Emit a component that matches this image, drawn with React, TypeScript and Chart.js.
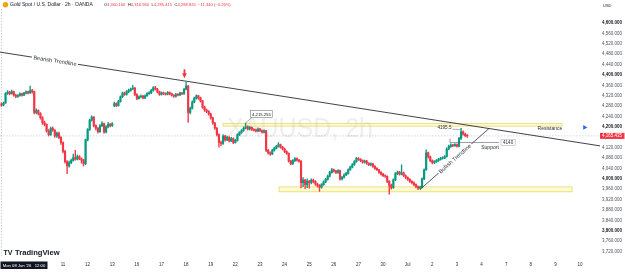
import React, { useEffect, useRef } from "react";
import { Chart, registerables } from "chart.js";

Chart.register(...registerables);

const FONT = '"Liberation Sans", Arial, sans-serif';
const UP = "#089981";
const DOWN = "#f23645";

// 2h candles, first bar index (12 bars per trading day, index 0 = Mon 08 Jun 00:00)
const FIRST_BAR = 6;

const opens = [
  4288, 4284, 4292, 4328, 4334, 4328, 4336, 4322, 4317, 4321, 4327, 4322,
  4330, 4335, 4331, 4340, 4336, 4256, 4263, 4252, 4236, 4216, 4210, 4185,
  4170, 4195, 4188, 4165, 4176, 4160, 4140, 4106, 4066, 4050, 4062, 4071,
  4082, 4076, 4086, 4078, 4072, 4058, 4150, 4190, 4226, 4238, 4205, 4195,
  4182, 4205, 4213, 4180, 4200, 4210, 4205, 4282, 4290, 4282, 4298, 4316,
  4330, 4325, 4336, 4341, 4346, 4350, 4325, 4310, 4316, 4319, 4312, 4320,
  4328, 4331, 4341, 4351, 4346, 4335, 4325, 4331, 4328, 4326, 4332, 4327,
  4322, 4318, 4325, 4323, 4330, 4328, 4345, 4357, 4256, 4272, 4296, 4311,
  4320, 4312, 4300, 4276, 4265, 4260, 4250, 4235, 4215, 4195, 4170, 4140,
  4136, 4165, 4150, 4160, 4146, 4155, 4140, 4148, 4170, 4178, 4186, 4195,
  4200, 4192, 4198, 4190, 4188, 4185, 4192, 4186, 4180, 4185, 4110, 4100,
  4096, 4110, 4118, 4125, 4132, 4122, 4115, 4105, 4098, 4068, 4058, 4070,
  4078, 4072, 4068, 3985, 3995, 3978, 3990, 3985, 3995, 3990, 3980, 3975,
  3968, 3978, 3988, 3998, 4010, 4025, 4035, 4030, 4025, 4032, 4000, 4006,
  4015, 4021, 4035, 4045, 4055, 4066, 4078, 4075, 4070, 4064, 4068, 4060,
  4055, 4058, 4048, 4040, 4035, 4025, 4018, 4012, 4010, 3990, 3975, 3966,
  3996, 4020, 4026, 4018, 4023, 4012, 4005, 3998, 3990, 3985, 3978, 3970,
  3965, 3968, 4000, 4035, 4100, 4085, 4070, 4062, 4066, 4070, 4075, 4079,
  4081, 4086, 4115, 4125, 4130, 4128, 4132, 4126, 4156, 4181, 4172, 4166,
];

const highs = [
  4293, 4296, 4332, 4340, 4337, 4342, 4338, 4326, 4325, 4331, 4330, 4333,
  4339, 4338, 4357, 4345, 4338, 4270, 4266, 4255, 4240, 4222, 4212, 4190,
  4199, 4200, 4190, 4180, 4180, 4163, 4143, 4110, 4070, 4068, 4076, 4095,
  4110, 4092, 4090, 4081, 4075, 4153, 4194, 4230, 4243, 4240, 4208, 4198,
  4209, 4221, 4215, 4205, 4218, 4214, 4217, 4296, 4293, 4302, 4320, 4334,
  4334, 4340, 4346, 4350, 4360, 4352, 4328, 4320, 4324, 4322, 4324, 4332,
  4336, 4345, 4355, 4356, 4349, 4338, 4335, 4334, 4331, 4336, 4335, 4330,
  4325, 4329, 4328, 4334, 4333, 4349, 4372, 4360, 4276, 4300, 4315, 4324,
  4322, 4315, 4302, 4280, 4269, 4263, 4253, 4238, 4218, 4198, 4173, 4145,
  4170, 4168, 4165, 4163, 4160, 4158, 4152, 4174, 4182, 4190, 4200, 4215,
  4204, 4202, 4200, 4194, 4192, 4196, 4195, 4189, 4189, 4187, 4114, 4104,
  4114, 4122, 4129, 4140, 4134, 4125, 4118, 4108, 4100, 4071, 4074, 4082,
  4081, 4075, 4070, 4005, 3998, 4000, 3994, 4000, 3999, 3993, 3984, 3978,
  3982, 3992, 4002, 4014, 4029, 4040, 4038, 4033, 4036, 4034, 4010, 4019,
  4025, 4039, 4049, 4059, 4070, 4083, 4082, 4078, 4073, 4072, 4071, 4063,
  4062, 4060, 4051, 4043, 4037, 4028, 4021, 4015, 4012, 3993, 3980, 4000,
  4024, 4030, 4029, 4054, 4026, 4015, 4008, 4001, 3993, 3988, 3981, 3973,
  3972, 4004, 4039, 4112, 4103, 4088, 4073, 4070, 4074, 4079, 4083, 4085,
  4090, 4119, 4130, 4135, 4133, 4136, 4135, 4160, 4195, 4185, 4176, 4170,
];

const lows = [
  4279, 4281, 4290, 4325, 4323, 4326, 4318, 4313, 4314, 4318, 4318, 4320,
  4327, 4327, 4329, 4330, 4250, 4250, 4246, 4230, 4210, 4204, 4180, 4165,
  4167, 4183, 4160, 4160, 4155, 4133, 4100, 4060, 4020, 4045, 4058, 4068,
  4072, 4073, 4074, 4060, 4050, 4055, 4146, 4186, 4222, 4200, 4188, 4176,
  4179, 4201, 4176, 4177, 4196, 4200, 4202, 4278, 4278, 4280, 4295, 4313,
  4321, 4322, 4332, 4338, 4343, 4320, 4305, 4307, 4312, 4308, 4309, 4317,
  4325, 4328, 4338, 4342, 4331, 4321, 4322, 4324, 4322, 4323, 4323, 4318,
  4314, 4315, 4319, 4320, 4324, 4325, 4342, 4217, 4250, 4268, 4292, 4307,
  4306, 4295, 4271, 4260, 4255, 4245, 4230, 4210, 4190, 4165, 4122, 4128,
  4133, 4145, 4147, 4142, 4143, 4135, 4137, 4145, 4166, 4175, 4183, 4192,
  4188, 4188, 4186, 4184, 4181, 4182, 4182, 4176, 4177, 4105, 4095, 4090,
  4093, 4107, 4115, 4122, 4118, 4111, 4101, 4094, 4064, 4054, 4055, 4066,
  4068, 4064, 3965, 3970, 3962, 3966, 3964, 3980, 3984, 3975, 3968, 3952,
  3964, 3975, 3985, 3995, 4007, 4022, 4026, 4020, 4021, 3995, 3996, 4003,
  4012, 4018, 4032, 4042, 4052, 4063, 4071, 4066, 4060, 4060, 4056, 4051,
  4050, 4044, 4036, 4031, 4021, 4014, 4008, 4005, 3985, 3941, 3960, 3963,
  3993, 4016, 4014, 4015, 4008, 4001, 3994, 3986, 3980, 3974, 3965, 3958,
  3960, 3965, 3997, 4032, 4080, 4066, 4057, 4058, 4063, 4067, 4072, 4076,
  4078, 4083, 4112, 4121, 4124, 4125, 4122, 4123, 4152, 4168, 4162, 4160,
];

const closes = [
  4284, 4292, 4328, 4334, 4328, 4336, 4322, 4317, 4321, 4327, 4322, 4330,
  4335, 4331, 4340, 4336, 4256, 4263, 4252, 4236, 4216, 4210, 4185, 4170,
  4195, 4188, 4165, 4176, 4160, 4140, 4106, 4066, 4050, 4062, 4071, 4082,
  4076, 4086, 4078, 4072, 4058, 4150, 4190, 4226, 4238, 4205, 4195, 4182,
  4205, 4213, 4180, 4200, 4210, 4205, 4212, 4290, 4282, 4298, 4316, 4330,
  4325, 4336, 4341, 4346, 4350, 4325, 4310, 4316, 4319, 4312, 4320, 4328,
  4331, 4341, 4351, 4346, 4335, 4325, 4331, 4328, 4326, 4332, 4327, 4322,
  4318, 4325, 4323, 4330, 4328, 4345, 4357, 4256, 4272, 4296, 4311, 4320,
  4312, 4300, 4276, 4265, 4260, 4250, 4235, 4215, 4195, 4170, 4140, 4136,
  4165, 4150, 4160, 4146, 4155, 4140, 4148, 4170, 4178, 4186, 4195, 4200,
  4192, 4198, 4190, 4188, 4185, 4192, 4186, 4180, 4185, 4110, 4100, 4096,
  4110, 4118, 4125, 4132, 4122, 4115, 4105, 4098, 4068, 4058, 4070, 4078,
  4072, 4068, 3985, 3995, 3978, 3990, 3985, 3995, 3990, 3980, 3975, 3968,
  3978, 3988, 3998, 4010, 4025, 4035, 4030, 4025, 4032, 4000, 4006, 4015,
  4021, 4035, 4045, 4055, 4066, 4078, 4075, 4070, 4064, 4068, 4060, 4055,
  4058, 4048, 4040, 4035, 4025, 4018, 4012, 4010, 3990, 3975, 3966, 3996,
  4020, 4026, 4018, 4023, 4012, 4005, 3998, 3990, 3985, 3978, 3970, 3965,
  3968, 4000, 4035, 4100, 4085, 4070, 4062, 4066, 4070, 4075, 4079, 4081,
  4086, 4115, 4125, 4130, 4128, 4132, 4126, 4156, 4181, 4172, 4166, 4165.435,
];

// time axis
const dayTickIndex = [36, 48, 60, 72, 84, 96, 108, 120, 132, 144, 156, 168, 180, 192, 204, 216, 228, 240, 252, 264, 276, 288];
const dayTickLabels = ["11", "12", "13", "16", "17", "18", "19", "22", "23", "24", "25", "26", "27", "30", "Jul", "2", "3", "4", "7", "8", "9", "10"];
const crosshairIndex = 6;
const crosshairLabel = "Mon 08 Jun '26   12:00";

// price axis
const yTicks = [3720, 3760, 3800, 3840, 3880, 3920, 3960, 4000, 4040, 4080, 4120, 4160, 4200, 4240, 4280, 4320, 4360, 4400, 4440, 4480, 4520, 4560, 4600];
const boldTicks = [3800, 4000, 4200, 4400, 4600];
const lastPriceLabel = "4,165.435";

// drawings (bar index, price)
const bearishTrend = [{ x: 5.3, y: 4488 }, { x: 297.7, y: 4127 }];
const bullishTrend = [{ x: 210.0, y: 3959 }, { x: 243.6, y: 4194 }];
const resistanceZone = [114.0, 279.2, 4203, 4213];
const supportZone = [141.3, 284.1, 3950, 3969];
const arrowMark = [95.2, 4422, 4387];
const peakNote = [132.7, 4249, 125, 4215];
const peakNoteText = "4,215.255";
const highNote = [221.9, 4197, 230, 4195];
const highNoteText = "4195.5";
const supportLine = [224.6, 248.5, 4140];
const supportNote = [252.9, 4140];
const supportNoteText = "4140";
const blueMarker = [{ x: 290.2, y: 4198 }];

const headerTitle = "Gold Spot / U.S. Dollar · 2h · OANDA";
const headerValues = [["O", "4,300.160"], ["H", "4,316.960"], ["L", "4,285.415"], ["C", "4,288.820"], ["", "−11.340 (−0.26%)"]];
const watermarkText = "XAUUSD, 2h";

const overlayPlugin = {
  id: "overlay",
  beforeDatasetsDraw(chart: any) {
    const { ctx, chartArea: a, scales } = chart;
    const X = (v: number) => scales.x.getPixelForValue(v);
    const Y = (v: number) => scales.y.getPixelForValue(v);
    ctx.save();
    // watermark
    ctx.font = `28px ${FONT}`;
    const ww = ctx.measureText(watermarkText).width;
    ctx.save();
    ctx.translate((a.left + a.right) / 2, (a.top + a.bottom) / 2 - 1.5);
    ctx.scale(146 / ww, 1);
    ctx.fillStyle = "rgba(120,123,134,0.13)";
    ctx.textAlign = "center";
    ctx.textBaseline = "middle";
    ctx.fillText(watermarkText, 0, 0);
    ctx.restore();

    // crosshair & price line
    ctx.setLineDash([1.5, 1.5]);
    ctx.strokeStyle = "rgba(120,123,134,0.55)";
    ctx.lineWidth = 0.7;
    const cx = X(crosshairIndex);
    ctx.beginPath();
    ctx.moveTo(cx, 9);
    ctx.lineTo(cx, a.bottom);
    ctx.stroke();
    const py = Y(closes[closes.length - 1]);
    ctx.strokeStyle = "rgba(150,150,155,0.55)";
    ctx.beginPath();
    ctx.moveTo(a.left, py);
    ctx.lineTo(a.right, py);
    ctx.stroke();
    ctx.setLineDash([]);

    // zones
    const zone = (z: number[]) => {
      const x0 = X(z[0]);
      const x1 = X(z[1]);
      const y0 = Y(z[3]);
      const y1 = Y(z[2]);
      ctx.fillStyle = "rgba(255, 238, 100, 0.3)";
      ctx.fillRect(x0, y0, x1 - x0, y1 - y0);
      ctx.strokeStyle = "rgba(225, 210, 80, 0.9)";
      ctx.lineWidth = 0.7;
      ctx.strokeRect(x0, y0, x1 - x0, y1 - y0);
    };
    zone(resistanceZone);
    zone(supportZone);
    ctx.restore();
  },
  afterDatasetsDraw(chart: any) {
    const { ctx, scales } = chart;
    const X = (v: number) => scales.x.getPixelForValue(v);
    const Y = (v: number) => scales.y.getPixelForValue(v);
    ctx.save();
    ctx.textAlign = "center";
    ctx.textBaseline = "middle";

    const onLine = (text: string, line: { x: number; y: number }[], at: number) => {
      const ax = X(line[0].x), ay = Y(line[0].y), bx = X(line[1].x), by = Y(line[1].y);
      const ang = Math.atan2(by - ay, bx - ax);
      const px = X(at);
      const py = ay + ((px - ax) / (bx - ax)) * (by - ay);
      ctx.save();
      ctx.translate(px, py);
      ctx.rotate(ang);
      ctx.font = `5.6px ${FONT}`;
      const w = ctx.measureText(text).width;
      ctx.fillStyle = "#ffffff";
      ctx.fillRect(-w / 2 - 1.5, -2.6, w + 3, 5.2);
      ctx.fillStyle = "#2a2e39";
      ctx.fillText(text, 0, 0.3);
      ctx.restore();
    };
    onLine("Bearish Trendline", bearishTrend, 32.1);
    onLine("Bullish Trendline", bullishTrend, 227.0);

    // red arrow
    const axp = X(arrowMark[0]);
    const ayt = Y(arrowMark[1]);
    const ayh = Y(arrowMark[2]);
    ctx.fillStyle = DOWN;
    ctx.fillRect(axp - 0.9, ayt, 1.8, (ayh - ayt) * 0.55);
    ctx.beginPath();
    ctx.moveTo(axp - 2.4, ayt + (ayh - ayt) * 0.45);
    ctx.lineTo(axp + 2.4, ayt + (ayh - ayt) * 0.45);
    ctx.lineTo(axp, ayh);
    ctx.closePath();
    ctx.fill();

    // price note 4,215.255
    ctx.font = `4.2px ${FONT}`;
    const nx = X(peakNote[0]), ny = Y(peakNote[1]);
    const nw = ctx.measureText(peakNoteText).width + 3;
    ctx.strokeStyle = "#787b86";
    ctx.lineWidth = 0.6;
    ctx.beginPath();
    ctx.moveTo(nx - nw / 2 + 1, ny + 3.5);
    ctx.lineTo(X(peakNote[2]), Y(peakNote[3]));
    ctx.stroke();
    ctx.fillStyle = "#ffffff";
    ctx.fillRect(nx - nw / 2, ny - 3.5, nw, 7);
    ctx.strokeRect(nx - nw / 2, ny - 3.5, nw, 7);
    ctx.fillStyle = "#131722";
    ctx.fillText(peakNoteText, nx, ny + 0.2);

    // 4195.5 note
    ctx.font = `4.6px ${FONT}`;
    const hx = X(highNote[0]), hy = Y(highNote[1]);
    const hw = ctx.measureText(highNoteText).width;
    ctx.fillStyle = "#2a2e39";
    ctx.fillText(highNoteText, hx, hy);
    ctx.strokeStyle = "#787b86";
    ctx.lineWidth = 0.6;
    ctx.beginPath();
    ctx.moveTo(hx + hw / 2 + 1, hy + 1.5);
    ctx.lineTo(X(highNote[2]), Y(highNote[3]) + 1.5);
    ctx.stroke();

    // support line + 4140 box
    const sy = Y(supportLine[2]);
    ctx.strokeStyle = "#5d606b";
    ctx.beginPath();
    ctx.moveTo(X(supportLine[0]), sy);
    ctx.lineTo(X(supportLine[1]), sy);
    ctx.moveTo(X(supportLine[0]), sy);
    ctx.lineTo(X(supportLine[0]), sy - 4);
    ctx.stroke();
    const bx = X(supportNote[0]), by = Y(supportNote[1]);
    const bw = ctx.measureText(supportNoteText).width + 4;
    ctx.fillStyle = "#ffffff";
    ctx.fillRect(bx - bw / 2, by - 3, bw, 6);
    ctx.strokeStyle = "#b2b5be";
    ctx.strokeRect(bx - bw / 2, by - 3, bw, 6);
    ctx.fillStyle = "#2a2e39";
    ctx.fillText(supportNoteText, bx, by + 0.2);

    ctx.font = `5px ${FONT}`;
    ctx.fillStyle = "#2a2e39";
    ctx.fillText("Support", X(244.1), Y(4121));
    ctx.fillText("Resistance", X(273.3), Y(4194));
    ctx.restore();
  },
  afterDraw(chart: any) {
    const { ctx, chartArea: a, scales } = chart;
    const Y = (v: number) => scales.y.getPixelForValue(v);
    ctx.save();
    ctx.textBaseline = "middle";
    // header
    ctx.fillStyle = "#f0a30a";
    ctx.beginPath();
    ctx.arc(5.5, 4.8, 2.7, 0, Math.PI * 2);
    ctx.fill();
    ctx.font = `5px ${FONT}`;
    ctx.textAlign = "left";
    ctx.fillStyle = "#131722";
    ctx.fillText(headerTitle, 10, 5);
    ctx.font = `4.1px ${FONT}`;
    let hx = 104;
    for (const [k, v] of headerValues) {
      if (k) {
        ctx.fillStyle = "#131722";
        ctx.fillText(k, hx, 5);
        hx += ctx.measureText(k).width;
      }
      ctx.fillStyle = DOWN;
      ctx.fillText(v, hx, 5);
      hx += ctx.measureText(v).width + 2.5;
    }

    // USD
    ctx.font = `4px ${FONT}`;
    ctx.fillStyle = "#131722";
    ctx.fillText("USD", a.right + 3, 6);

    // last price label
    const ly = Y(closes[closes.length - 1]);
    ctx.fillStyle = DOWN;
    ctx.fillRect(a.right, ly - 3, 24.5, 6);
    ctx.fillStyle = "#ffffff";
    ctx.font = `4.5px ${FONT}`;
    ctx.fillText(lastPriceLabel, a.right + 2, ly + 0.2);

    // crosshair time label
    ctx.fillStyle = "#131722";
    ctx.fillRect(0.5, 261.5, 47, 7.5);
    ctx.fillStyle = "#ffffff";
    ctx.font = `4.2px ${FONT}`;
    ctx.textAlign = "center";
    ctx.fillText(crosshairLabel, 24, 265.4);

    // logo
    ctx.textAlign = "left";
    ctx.fillStyle = "#131722";
    ctx.font = `900 7px ${FONT}`;
    ctx.fillText("TV", 3.5, 253);
    ctx.font = `600 7.6px ${FONT}`;
    ctx.fillText("TradingView", 15, 253);
    ctx.restore();
  },
};

export default function App() {
  const ref = useRef<HTMLCanvasElement>(null);
  useEffect(() => {
    document.body.style.margin = "0";
    const canvas = ref.current!;
    const idx = opens.map((_, k) => FIRST_BAR + k);
    const colors = opens.map((o, k) => (closes[k] >= o ? UP : DOWN));
    const chart = new Chart(canvas, {
      type: "bar",
      data: {
        datasets: [
          { type: "line", data: bearishTrend, borderColor: "#2a2e39", borderWidth: 0.9, pointRadius: 0, order: 0 } as any,
          { type: "line", data: bullishTrend, borderColor: "#2a2e39", borderWidth: 0.8, pointRadius: 0, order: 0 } as any,
          {
            type: "line", data: blueMarker, showLine: false, pointStyle: "triangle", rotation: 90,
            pointRadius: 2.8, backgroundColor: "#2962ff", borderWidth: 0, order: 0, clip: false,
          } as any,
          {
            type: "bar", data: idx.map((x, k) => ({ x, y: [lows[k], highs[k]] })),
            backgroundColor: colors, barThickness: 0.7, grouped: false, order: 3, borderWidth: 0,
          } as any,
          {
            type: "bar", data: idx.map((x, k) => ({ x, y: [opens[k], closes[k]] })),
            backgroundColor: colors, barThickness: 1.5, minBarLength: 0.7, grouped: false, order: 2, borderWidth: 0,
          } as any,
        ],
      },
      options: {
        responsive: false,
        animation: false,
        devicePixelRatio: 1,
        events: [],
        layout: { padding: 0, autoPadding: false },
        plugins: { legend: { display: false }, tooltip: { enabled: false } },
        scales: {
          x: {
            type: "linear", min: 5.3, max: 297.7, offset: false,
            grid: { display: false, drawTicks: false }, border: { display: false },
            afterBuildTicks: (s: any) => { s.ticks = dayTickIndex.map((v) => ({ value: v })); },
            afterFit: (s: any) => { s.height = 16; },
            ticks: {
              autoSkip: false, maxRotation: 0, minRotation: 0, padding: 6, color: "#2a2e39",
              font: { size: 4.5, family: FONT },
              callback: (_v: any, k: number) => dayTickLabels[k],
            },
          },
          y: {
            type: "linear", position: "right", min: 3702.8, max: 4670.7,
            grid: { display: false, drawTicks: false }, border: { display: false },
            afterBuildTicks: (s: any) => { s.ticks = yTicks.map((v) => ({ value: v })); },
            afterFit: (s: any) => { s.width = 25; },
            ticks: {
              padding: 2, crossAlign: "near",
              color: (c: any) => (boldTicks.includes(c.tick?.value) ? "#131722" : "#50535e"),
              font: (c: any) => ({ size: 4.5, family: FONT, weight: boldTicks.includes(c.tick?.value) ? "bold" : "normal" }),
              callback: (v: any) => Number(v).toLocaleString("en-US", { minimumFractionDigits: 3, maximumFractionDigits: 3 }),
            },
          },
        },
      } as any,
      plugins: [overlayPlugin],
    });
    return () => chart.destroy();
  }, []);
  return (
    <div style={{ width: 625, height: 272, background: "#ffffff" }}>
      <canvas ref={ref} width={625} height={272} style={{ display: "block", width: 625, height: 272 }} />
    </div>
  );
}
